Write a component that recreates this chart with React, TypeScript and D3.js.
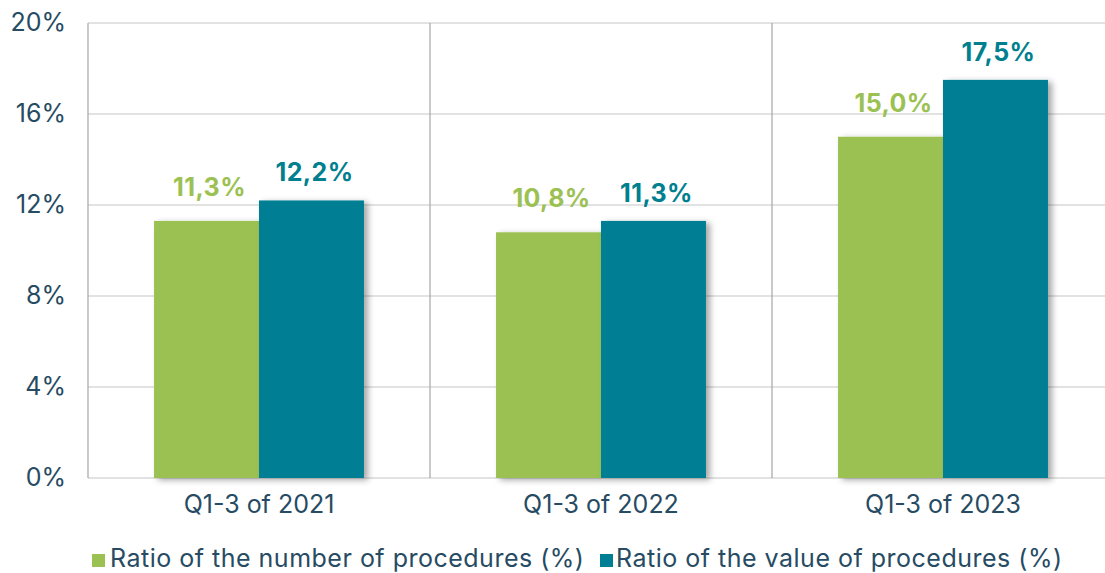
import React from "react";
import * as d3 from "d3";

const categories = ["Q1-3 of 2021", "Q1-3 of 2022", "Q1-3 of 2023"];
const seriesNames = ["Ratio of the number of procedures (%)", "Ratio of the value of procedures (%)"];
const numberRatio = [11.3, 10.8, 15.0];
const valueRatio = [12.2, 11.3, 17.5];
const yTicks = [0, 4, 8, 12, 16, 20];

const W = 1105;
const H = 573;
const colors = ["#9BC152", "#007F94"];
const labelColors = ["#9BC152", "#00808F"];
const textColor = "#264B63";
const font = "Inter, 'Open Sans', sans-serif";

export default function App() {
  const x0 = d3.scaleBand<string>().domain(categories).range([88, 1114]).paddingInner(0).paddingOuter(0);
  const x1 = d3.scaleBand<number>().domain([0, 1]).range([0, x0.bandwidth()]).paddingInner(0).paddingOuter(0.629);
  const y = d3.scaleLinear().domain([0, 20]).range([478, 23]);
  const series = [numberRatio, valueRatio];
  const fmt = (v: number) => v.toFixed(1).replace(".", ",") + "%";
  const labelOffset = [25, 19];

  return (
    <svg width={W} height={H} style={{ position: "absolute", left: 0, top: 0, background: "#fff" }}>
      <defs>
        <filter id="sh" x="-20%" y="-20%" width="150%" height="150%">
          <feDropShadow dx="4" dy="2" stdDeviation="3" floodColor="#000" floodOpacity="0.35" />
        </filter>
      </defs>
      {yTicks.map((t) => (
        <g key={t}>
          <line x1={88} x2={W} y1={y(t)} y2={y(t)} stroke="#D9D9D9" strokeWidth={1.5} />
          <text x={66} y={y(t) + 8} textAnchor="end" fontFamily={font} fontSize={25} fill={textColor}>
            {t}%
          </text>
        </g>
      ))}
      {categories.map((c) => (
        <line key={c} x1={x0(c)!} x2={x0(c)!} y1={y(20)} y2={y(0)} stroke="#A6A6A6" strokeWidth={1.2} />
      ))}
      {categories.map((c, i) => (
        <g key={c}>
          {series.map((s, j) => (
            <rect
              key={j}
              x={x0(c)! + x1(j)!}
              y={y(s[i])}
              width={x1.bandwidth()}
              height={y(0) - y(s[i])}
              fill={colors[j]}
              filter="url(#sh)"
            />
          ))}
          {series.map((s, j) => (
            <text
              key={"l" + j}
              x={x0(c)! + x1(j)! + x1.bandwidth() / 2 + 3}
              y={y(s[i]) - labelOffset[j]}
              textAnchor="middle"
              fontFamily={font}
              fontWeight={700}
              fontSize={25}
              letterSpacing={0.4}
              fill={labelColors[j]}
            >
              {fmt(s[i])}
            </text>
          ))}
          <text
            x={x0(c)! + x0.bandwidth() / 2}
            y={513}
            textAnchor="middle"
            fontFamily={font}
            fontSize={25}
            fill={textColor}
          >
            {c}
          </text>
        </g>
      ))}
      <g>
        <rect x={92} y={554} width={13} height={13} fill={colors[0]} />
        <text x={110} y={567} fontFamily={font} fontSize={25} letterSpacing={0.5} fill={textColor}>
          {seriesNames[0]}
        </text>
        <rect x={600} y={554} width={13} height={13} fill={colors[1]} />
        <text x={616} y={567} fontFamily={font} fontSize={25} letterSpacing={0.5} fill={textColor}>
          {seriesNames[1]}
        </text>
      </g>
    </svg>
  );
}
